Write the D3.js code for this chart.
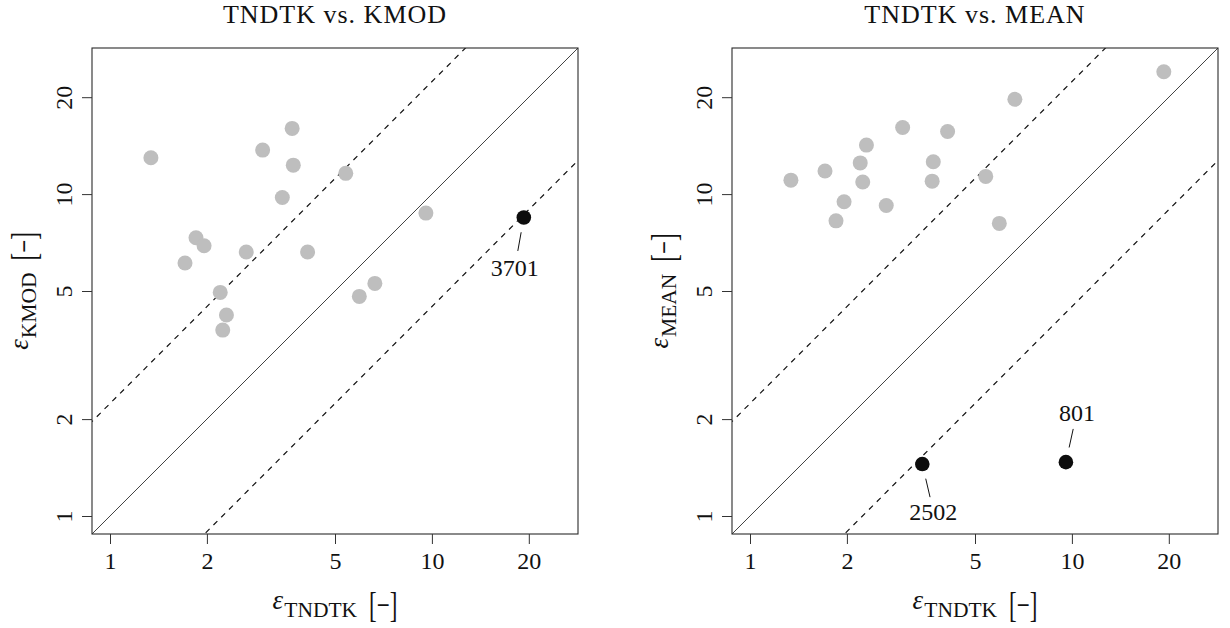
<!DOCTYPE html>
<html>
<head>
<meta charset="utf-8">
<script src="https://cdn.jsdelivr.net/npm/d3@7"></script>
<style>
  html, body { margin: 0; padding: 0; background: #fff; }
  svg text { font-family: "Liberation Serif", "Tinos", "Times New Roman", "DejaVu Serif", serif; fill: #111; }
</style>
</head>
<body>
<svg id="chart" width="1230" height="628"></svg>
<script>
// ---------------- data ----------------
const tickValues = [1, 2, 5, 10, 20];
const axisLimits = [1, 25];
// error of TNDTK method per site
const tndtk = [1.34, 3.68, 2.98, 3.71, 5.40, 3.43, 9.58, 19.3, 1.85, 1.96, 2.65, 4.11, 1.71, 2.20, 6.65, 5.95, 2.30, 2.24];
// error of KMOD method per site
const kmod  = [12.97, 16.0, 13.7, 12.3, 11.6, 9.76, 8.73, 8.46, 7.32, 6.91, 6.61, 6.61, 6.11, 4.95, 5.28, 4.81, 4.21, 3.78];
// error of MEAN method per site
const mean  = [11.05, 10.97, 16.1, 12.6, 11.35, 1.45, 1.47, 24.0, 8.26, 9.47, 9.22, 15.65, 11.8, 12.5, 19.7, 8.11, 14.2, 10.9];
// site ids (only the labelled ones are known)
const siteId = [null, null, null, null, null, "2502", "801", "3701", null, null, null, null, null, null, null, null, null, null];
const flaggedKmod = ["3701"];
const flaggedMean = ["2502", "801"];
const bandFactor = 2.236;   // dashed reference lines: y = f*x and y = x/f

// ---------------- layout / style ----------------
const svg = d3.select("#chart");
const size = 486;
const panels = [
  { left: 92,  top: 48, title: "TNDTK vs. KMOD", ySub: "KMOD", y: kmod, flagged: flaggedKmod },
  { left: 732, top: 48, title: "TNDTK vs. MEAN", ySub: "MEAN", y: mean, flagged: flaggedMean }
];
// label placement (pixel offsets of label centre from the point)
const labelOffset = { "3701": [-9, 50], "2502": [11, 47], "801": [11, -50] };

const lg = Math.log10;
const span = lg(axisLimits[1]) - lg(axisLimits[0]);
const dom = [Math.pow(10, lg(axisLimits[0]) - 0.04 * span), Math.pow(10, lg(axisLimits[1]) + 0.04 * span)];

function axisLabel(parent, sub, cx, base, rotate) {
  const g = parent.append("g");
  const t1 = g.append("text").attr("x", 0).attr("y", 0)
    .attr("font-style", "italic").attr("font-size", 27).text("ε");
  const w1 = t1.node().getComputedTextLength();
  const t2 = g.append("text").attr("x", w1 + 1).attr("y", 8)
    .attr("font-size", 21.5).text(sub);
  const w2 = t2.node().getComputedTextLength();
  const bx = w1 + 1 + w2 + 12;
  const t3 = g.append("text").attr("font-size", 23)
    .attr("transform", `translate(${bx},8) scale(1,1.53)`).text("[−]");
  const w3 = t3.node().getComputedTextLength();
  const W = bx + w3;
  if (rotate) {
    g.attr("transform", `translate(${base},${cx}) rotate(-90) translate(${-W / 2},0)`);
  } else {
    g.attr("transform", `translate(${cx - W / 2},${base})`);
  }
}

panels.forEach((p, pi) => {
  const x = d3.scaleLog().domain(dom).range([p.left, p.left + size]);
  const y = d3.scaleLog().domain(dom).range([p.top + size, p.top]);
  const g = svg.append("g");
  const clipId = "clip" + pi;
  svg.append("clipPath").attr("id", clipId).append("rect")
    .attr("x", p.left).attr("y", p.top).attr("width", size).attr("height", size);

  // reference lines
  const lines = g.append("g").attr("clip-path", `url(#${clipId})`);
  const xs = [dom[0] / 10, dom[1] * 10];
  const lineGen = (f) => d3.line().x(d => x(d)).y(d => y(d * f))(xs);
  lines.append("path").attr("d", lineGen(1)).attr("stroke", "#111").attr("stroke-width", 0.8).attr("fill", "none");
  lines.append("path").attr("d", lineGen(bandFactor)).attr("stroke", "#111").attr("stroke-width", 1.2)
    .attr("stroke-dasharray", "5.5,5.5").attr("fill", "none");
  lines.append("path").attr("d", lineGen(1 / bandFactor)).attr("stroke", "#111").attr("stroke-width", 1.2)
    .attr("stroke-dasharray", "5.5,5.5").attr("fill", "none");

  // box
  g.append("rect").attr("x", p.left).attr("y", p.top).attr("width", size).attr("height", size)
    .attr("fill", "none").attr("stroke", "#2a2a2a").attr("stroke-width", 1.1);

  // axes
  const xAxis = d3.axisBottom(x).tickValues(tickValues).tickFormat(d3.format("d")).tickSize(10).tickPadding(8);
  const xa = g.append("g").attr("transform", `translate(0,${p.top + size})`).call(xAxis);
  xa.attr("font-family", null);
  xa.select(".domain").remove();
  xa.selectAll("line").attr("stroke", "#333");
  xa.selectAll("text").attr("font-size", 24).attr("fill", "#111")
    .attr("dy", null).attr("y", 35);

  const yAxis = d3.axisLeft(y).tickValues(tickValues).tickFormat(d3.format("d")).tickSize(10);
  const ya = g.append("g").attr("transform", `translate(${p.left},0)`).call(yAxis);
  ya.attr("font-family", null);
  ya.select(".domain").remove();
  ya.selectAll("line").attr("stroke", "#333");
  ya.selectAll("text").attr("font-size", 24).attr("fill", "#111")
    .attr("x", null).attr("dy", null)
    .attr("text-anchor", "middle")
    .attr("transform", "translate(-20,0) rotate(-90)");

  // title
  g.append("text").attr("x", p.left + size / 2).attr("y", 23).attr("text-anchor", "middle")
    .attr("font-size", 26).attr("letter-spacing", 1).text(p.title);

  // axis labels
  axisLabel(g, "TNDTK", p.left + size / 2, 609, false);
  axisLabel(g, p.ySub, p.top + size / 2, p.left - 64, true);

  // points
  const pts = tndtk.map((v, i) => ({ x: v, y: p.y[i], id: siteId[i], flag: p.flagged.includes(siteId[i]) }));
  g.append("g").selectAll("circle").data(pts.filter(d => !d.flag)).join("circle")
    .attr("cx", d => x(d.x)).attr("cy", d => y(d.y)).attr("r", 7.5).attr("fill", "#bebebe");
  const fl = pts.filter(d => d.flag);
  g.append("g").selectAll("circle").data(fl).join("circle")
    .attr("cx", d => x(d.x)).attr("cy", d => y(d.y)).attr("r", 7.3).attr("fill", "#0d0d0d");

  // labels with leader segments
  fl.forEach(d => {
    const [ox, oy] = labelOffset[d.id];
    const L = Math.hypot(ox, oy);
    const ux = ox / L, uy = oy / L;
    const cx = x(d.x), cy = y(d.y);
    g.append("line").attr("x1", cx + ux * 15).attr("y1", cy + uy * 15)
      .attr("x2", cx + ux * 34).attr("y2", cy + uy * 34)
      .attr("stroke", "#111").attr("stroke-width", 1);
    g.append("text").attr("x", cx + ox).attr("y", cy + oy + 8.5).attr("text-anchor", "middle")
      .attr("font-size", 24).text(d.id);
  });
});
</script>
</body>
</html>
